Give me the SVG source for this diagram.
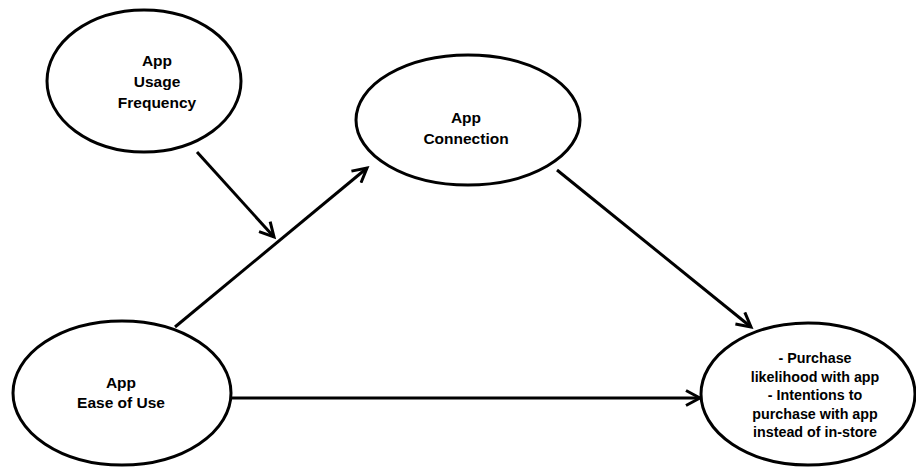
<svg xmlns="http://www.w3.org/2000/svg" width="916" height="467" viewBox="0 0 916 467">
<style>
.node{fill:#fff;stroke:#000;stroke-width:3}
.lbl{font-family:"Liberation Sans",Arial,sans-serif;font-weight:bold;font-size:15.5px;text-anchor:middle;fill:#000}
.sm{font-size:14.3px}
.edge{stroke:#000;stroke-width:3;fill:none;marker-end:url(#arr)}
</style>
<defs>
<marker id="arr" viewBox="0 0 18 18" refX="15" refY="9" markerWidth="18" markerHeight="18" markerUnits="userSpaceOnUse" orient="auto">
<path d="M1,1.5 L15,9 L1,16.5" fill="none" stroke="#000" stroke-width="3"/>
</marker>
</defs>
<rect width="916" height="467" fill="#fff"/>
<g id="connectors">
<line class="edge" x1="197" y1="152" x2="274" y2="237"/>
<line class="edge" x1="175" y1="327" x2="367" y2="168"/>
<line class="edge" x1="557" y1="170" x2="751" y2="327"/>
<line class="edge" x1="231" y1="398" x2="700" y2="398"/>
</g>
<g id="usage">
<ellipse class="node" cx="144" cy="81" rx="97" ry="71"/>
<text class="lbl" x="157" y="66">App</text>
<text class="lbl" x="157" y="87">Usage</text>
<text class="lbl" x="157" y="108">Frequency</text>
</g>
<g id="connection">
<ellipse class="node" cx="468" cy="120" rx="112" ry="65"/>
<text class="lbl" x="466" y="123">App</text>
<text class="lbl" x="466" y="144">Connection</text>
</g>
<g id="ease">
<ellipse class="node" cx="122" cy="393" rx="109" ry="72"/>
<text class="lbl" x="121" y="388">App</text>
<text class="lbl" x="121" y="408">Ease of Use</text>
</g>
<g id="outcome">
<ellipse class="node" cx="808" cy="394" rx="107" ry="71"/>
<text class="lbl sm" x="815" y="363">- Purchase</text>
<text class="lbl sm" x="815" y="382">likelihood with app</text>
<text class="lbl sm" x="815" y="400">- Intentions to</text>
<text class="lbl sm" x="815" y="419">purchase with app</text>
<text class="lbl sm" x="815" y="437">instead of in-store</text>
</g>
</svg>
